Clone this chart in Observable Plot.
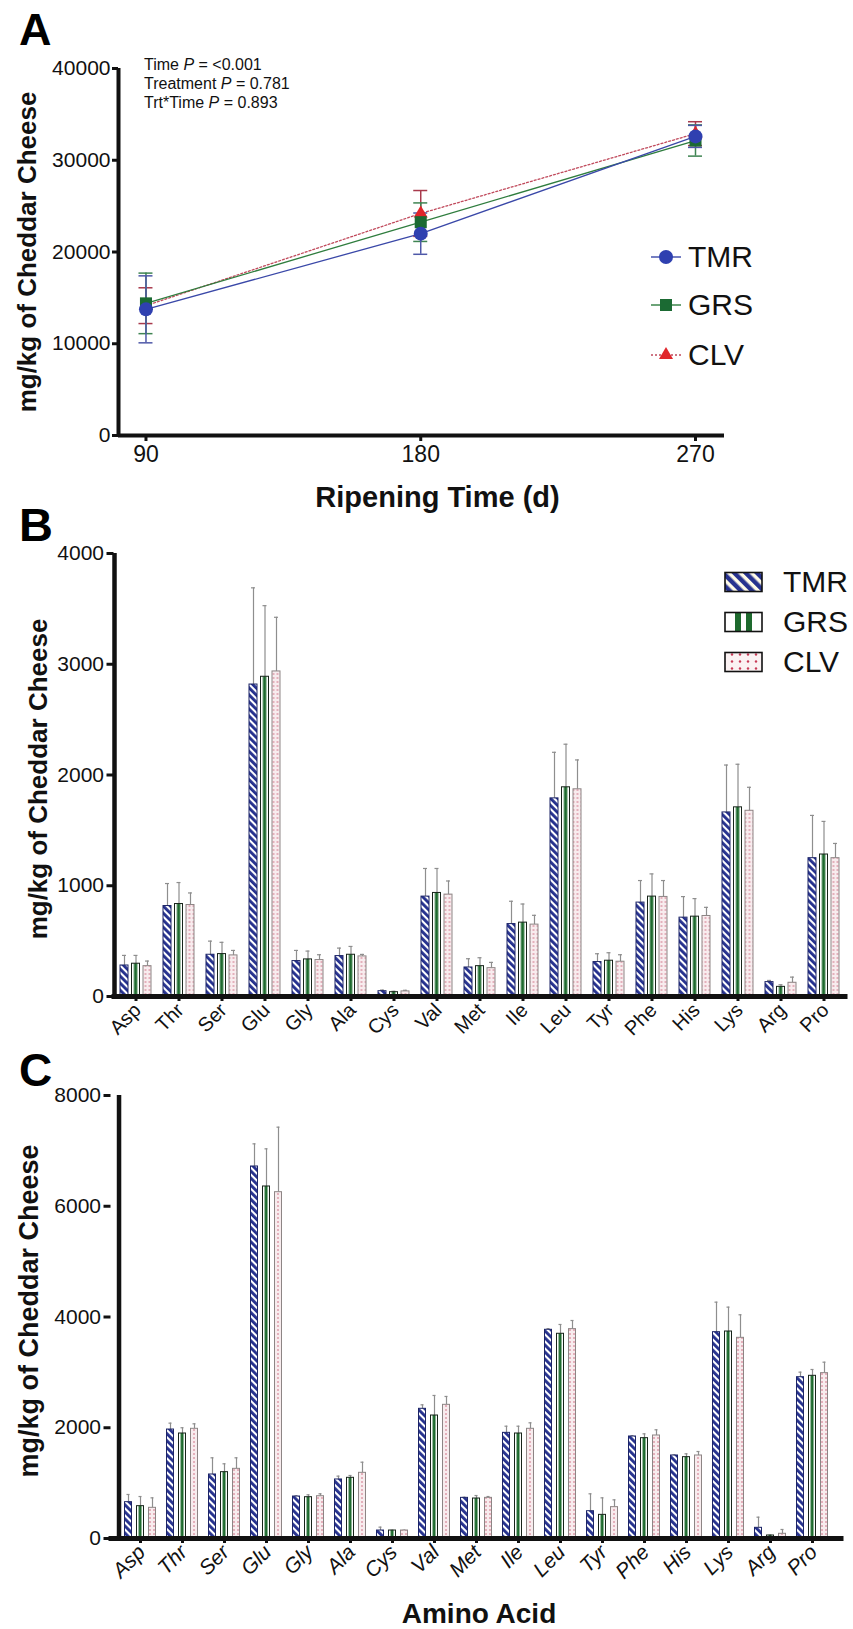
<!DOCTYPE html>
<html>
<head>
<meta charset="utf-8">
<script src="https://cdn.jsdelivr.net/npm/d3@7"></script>
<script src="https://cdn.jsdelivr.net/npm/@observablehq/plot@0.6"></script>
<style>
html,body{margin:0;padding:0;background:#fff;}
#page{position:relative;width:853px;height:1629px;overflow:hidden;font-family:"Liberation Sans",Arial,Helvetica,sans-serif;color:#111;}
.pl{position:absolute;left:0;}
.pl svg{overflow:visible;}
#overlay{position:absolute;left:0;top:0;pointer-events:none;}
</style>
</head>
<body>
<div id="page">
<svg width="0" height="0" style="position:absolute;left:0;top:0">
  <defs>
    <pattern id="pTMR" patternUnits="userSpaceOnUse" width="5" height="5" patternTransform="rotate(-45)">
      <rect width="5" height="5" fill="#ffffff"/>
      <rect width="2.9" height="5" fill="#25318e"/>
    </pattern>
    <pattern id="pGRS" patternUnits="objectBoundingBox" patternContentUnits="objectBoundingBox" width="1" height="1">
      <rect width="1" height="1" fill="#ffffff"/>
      <rect x="0.3" width="0.42" height="1" fill="#1e6a2e"/>
    </pattern>
    <pattern id="pCLV" patternUnits="userSpaceOnUse" width="4" height="4">
      <rect width="4" height="4" fill="#f8ecee"/>
      <circle cx="2" cy="2" r="0.75" fill="#c8566e"/>
    </pattern>
    <pattern id="pTMRL" patternUnits="userSpaceOnUse" width="8" height="8" patternTransform="rotate(-45)">
      <rect width="8" height="8" fill="#fffbe8"/>
      <rect width="4.5" height="8" fill="#27328f"/>
    </pattern>
    <pattern id="pCLVL" patternUnits="userSpaceOnUse" width="8" height="7">
      <rect width="8" height="7" fill="#fbf2f3"/>
      <circle cx="4" cy="3.5" r="1.2" fill="#c83a56"/>
    </pattern>
  </defs>
</svg>
<div id="plotA" class="pl" style="top:0px"></div>
<div id="plotB" class="pl" style="top:500px"></div>
<div id="plotC" class="pl" style="top:1080px"></div>
</div>
<script>
// ---------- data ----------
const seriesNames = ["TMR", "GRS", "CLV"];

// Panel A: total free amino acids over ripening
const days = [90, 180, 270];
const tmrTotal   = [13750, 22000, 32600];
const tmrTotalSD = [3650, 2250, 1200];
const grsTotal   = [14400, 23250, 32150];
const grsTotalSD = [3300, 2100, 1700];
const clvTotal   = [14150, 24200, 32900];
const clvTotalSD = [1950, 2500, 1300];
const yTicksA = [0, 10000, 20000, 30000, 40000];
const ripeningDomain = [81, 279.5];
const pValueLines = [["Time ", "P", " = <0.001"], ["Treatment ", "P", " = 0.781"], ["Trt*Time ", "P", " = 0.893"]];

// Panels B and C: individual amino acids
const aminoAcids = ["Asp","Thr","Ser","Glu","Gly","Ala","Cys","Val","Met","Ile","Leu","Tyr","Phe","His","Lys","Arg","Pro"];

const tmrB   = [280, 817, 377, 2817, 320, 365, 48, 902, 262, 654, 1789, 311, 848, 712, 1662, 130, 1249];
const tmrBSD = [91, 203, 123, 873, 96, 72, 10, 254, 79, 206, 416, 75, 199, 190, 428, 15, 386];
const grsB   = [296, 835, 383, 2887, 335, 377, 39, 935, 274, 667, 1889, 323, 902, 721, 1708, 87, 1282];
const grsBSD = [75, 194, 106, 642, 75, 75, 8, 221, 76, 168, 389, 72, 205, 163, 389, 19, 299];
const clvB   = [274, 826, 371, 2935, 329, 362, 46, 920, 256, 649, 1871, 314, 899, 727, 1677, 124, 1249];
const clvBSD = [46, 109, 45, 489, 48, 18, 10, 123, 52, 84, 265, 63, 148, 78, 212, 51, 133];
const yTicksB = [0, 1000, 2000, 3000, 4000];

const tmrC   = [656, 1968, 1156, 6718, 758, 1066, 144, 2342, 734, 1908, 3769, 493, 1842, 1499, 3726, 193, 2913];
const tmrCSD = [139, 115, 301, 409, 12, 60, 61, 72, 11, 120, 21, 314, 13, 11, 542, 192, 91];
const grsC   = [584, 1896, 1198, 6357, 746, 1096, 144, 2221, 722, 1896, 3697, 427, 1812, 1469, 3738, 54, 2938];
const grsCSD = [174, 104, 151, 680, 43, 42, 6, 362, 54, 132, 168, 307, 78, 60, 440, 8, 114];
const clvC   = [554, 1981, 1258, 6254, 764, 1186, 144, 2414, 734, 1981, 3781, 566, 1860, 1499, 3624, 85, 2986];
const clvCSD = [180, 90, 199, 1174, 43, 192, 6, 151, 24, 108, 156, 132, 103, 72, 416, 78, 198];
const yTicksC = [0, 2000, 4000, 6000, 8000];

const yTitle = "mg/kg of Cheddar Cheese";

// ---------- styles ----------
const fontFam = '"Liberation Sans", Arial, Helvetica, sans-serif';
const styleA = [
  {fill:"#2f40b0", line:"#3a48a8", err:"#4e58a8", symbol:"circle", r:7, dash:null},
  {fill:"#1b6a33", line:"#2f7d3e", err:"#3f8452", symbol:"square", r:6.8, dash:null},
  {fill:"#e0262b", line:"#c04a5c", err:"#a83a4c", symbol:"triangle", r:5.2, dash:"2,2"}
];
const barStyles = [
  {fill:"url(#pTMR)", stroke:"#1d2566"},
  {fill:"url(#pGRS)", stroke:"#17241a"},
  {fill:"url(#pCLV)", stroke:"#8d8585"}
];
const plotStyle = {fontFamily: fontFam, background: "transparent", overflow: "visible", color: "#111"};

// ---------- Panel A ----------
function panelA() {
  const totals = [tmrTotal, grsTotal, clvTotal];
  const sds = [tmrTotalSD, grsTotalSD, clvTotalSD];
  const rows = seriesNames.flatMap((s, k) => days.map((d, i) => ({series: s, day: d, v: totals[k][i], sd: sds[k][i]})));
  const by = s => rows.filter(r => r.series === s);
  const order = [2, 1, 0];
  const marks = [
    Plot.axisY({ticks: yTicksA, tickFormat: d => String(d), tickSize: 6, tickPadding: 2, fontSize: 21, strokeWidth: 3, label: null}),
    Plot.axisX({ticks: days, tickFormat: d => String(d), tickSize: 6, tickPadding: 4, fontSize: 23, strokeWidth: 3, label: null}),
    Plot.ruleX([ripeningDomain[0]], {strokeWidth: 4, insetBottom: -2}),
    Plot.ruleY([0], {strokeWidth: 4})
  ];
  order.forEach(k => marks.push(Plot.line(by(seriesNames[k]), {x: "day", y: "v", stroke: styleA[k].line, strokeWidth: 1.3, strokeDasharray: styleA[k].dash || undefined})));
  order.forEach(k => {
    const data = by(seriesNames[k]);
    const st = styleA[k].err;
    marks.push(Plot.ruleX(data, {x: "day", y1: d => d.v - d.sd, y2: d => d.v + d.sd, stroke: st, strokeWidth: 1.5}));
    marks.push(Plot.ruleY(data, {x1: "day", x2: "day", y: d => d.v + d.sd, insetLeft: -7, insetRight: -7, stroke: st, strokeWidth: 1.5}));
    marks.push(Plot.ruleY(data, {x1: "day", x2: "day", y: d => d.v - d.sd, insetLeft: -7, insetRight: -7, stroke: st, strokeWidth: 1.5}));
  });
  order.forEach(k => marks.push(Plot.dot(by(seriesNames[k]), {x: "day", y: "v", symbol: styleA[k].symbol, r: styleA[k].r, fill: styleA[k].fill, stroke: "none"})));
  marks.push(Plot.text([yTitle], {frameAnchor: "left", dx: -91, rotate: -90, fontSize: 26, fontWeight: "bold", textAnchor: "middle", lineAnchor: "middle"}));
  marks.push(Plot.text(["Ripening Time (d)"], {frameAnchor: "bottom", dx: 16, dy: 62, fontSize: 29, fontWeight: "bold", textAnchor: "middle", lineAnchor: "middle"}));
  const svg = Plot.plot({
    width: 853, height: 520,
    marginTop: 68, marginRight: 129, marginBottom: 85, marginLeft: 118,
    x: {domain: ripeningDomain},
    y: {domain: [0, 40000]},
    style: plotStyle,
    marks
  });
  document.getElementById("plotA").appendChild(svg);
}

// ---------- Panels B & C ----------
function barPanel(cfg) {
  const rows = seriesNames.flatMap((s, k) => aminoAcids.map((a, i) => ({series: s, aa: a, v: cfg.vals[k][i], sd: cfg.sds[k][i]})));
  const by = s => rows.filter(r => r.series === s);
  const marks = [];
  seriesNames.forEach((s, k) => {
    const data = by(s), dx = cfg.offsets[k];
    marks.push(Plot.ruleX(data, {x: "aa", y1: "v", y2: d => d.v + d.sd, dx, stroke: "#8e8e8e", strokeWidth: 1.2}));
    marks.push(Plot.tickY(data, {x: "aa", y: d => d.v + d.sd, dx, insetLeft: cfg.capInset, insetRight: cfg.capInset, stroke: "#8e8e8e", strokeWidth: 1.2}));
  });
  seriesNames.forEach((s, k) => {
    const data = by(s), dx = cfg.offsets[k];
    marks.push(Plot.barY(data, {x: "aa", y: "v", dx, insetLeft: cfg.barInset, insetRight: cfg.barInset, fill: barStyles[k].fill, stroke: barStyles[k].stroke, strokeWidth: 1}));
  });
  marks.push(
    Plot.axisY({ticks: cfg.yTicks, tickFormat: d => String(d), tickSize: 7, tickPadding: 3, fontSize: cfg.yFont, strokeWidth: 3, label: null}),
    Plot.axisX({tickSize: 5, strokeWidth: 3, text: null, label: null}),
    Plot.text(aminoAcids, {x: d => d, text: d => d, frameAnchor: "bottom", rotate: -45, textAnchor: "end",
      dx: cfg.xDx, dy: cfg.xDy, fontSize: cfg.xFont, fontStyle: cfg.italic ? "italic" : "normal"}),
    Plot.ruleX([aminoAcids[0]], {x: d => d, dx: -cfg.step / 2, strokeWidth: 4.5, insetBottom: -2}),
    Plot.ruleY([0], {strokeWidth: 5, insetRight: -3, insetLeft: -2}),
    Plot.text([yTitle], {frameAnchor: "left", dx: cfg.titleDx, dy: cfg.titleDy, rotate: -90, fontSize: cfg.titleFont, fontWeight: "bold", textAnchor: "middle", lineAnchor: "middle"})
  );
  if (cfg.xTitle) marks.push(Plot.text([cfg.xTitle], {frameAnchor: "bottom", dx: cfg.xTitleDx, dy: cfg.xTitleDy, fontSize: 28, fontWeight: "bold", textAnchor: "middle", lineAnchor: "middle"}));
  const svg = Plot.plot({
    width: 853, height: cfg.height,
    marginTop: cfg.mt, marginRight: cfg.mr, marginBottom: cfg.mb, marginLeft: cfg.ml,
    x: {domain: aminoAcids, padding: 0},
    y: {domain: [0, cfg.yTicks[cfg.yTicks.length - 1]]},
    style: plotStyle,
    marks
  });
  document.getElementById(cfg.id).appendChild(svg);
}

panelA();
barPanel({
  id: "plotB", height: 580, mt: 53, mr: 8.5, mb: 84, ml: 113.5, step: 43,
  vals: [tmrB, grsB, clvB], sds: [tmrBSD, grsBSD, clvBSD], yTicks: yTicksB,
  offsets: [-11.5, 0, 11.5], barInset: 17.5, capInset: 19.5,
  yFont: 21, xFont: 20, xDx: 6, xDy: 15, italic: false,
  titleDx: -75.5, titleDy: 4, titleFont: 26
});
barPanel({
  id: "plotC", height: 549, mt: 15, mr: 12.5, mb: 91, ml: 110.5, step: (853 - 12.5 - 110.5) / 17,
  vals: [tmrC, grsC, clvC], sds: [tmrCSD, grsCSD, clvCSD], yTicks: yTicksC,
  offsets: [-12, 0, 12], barInset: 17.5, capInset: 19.5,
  yFont: 21, xFont: 21, xDx: 6, xDy: 15, italic: true,
  titleDx: -81.5, titleDy: -6, titleFont: 27,
  xTitle: "Amino Acid", xTitleDx: 3, xTitleDy: 76
});

// ---------- overlay: panel letters, statistics and legends ----------
const ov = d3.select("#page").append("svg").attr("id", "overlay").attr("width", 853).attr("height", 1629)
  .style("font-family", fontFam);
[["A", 45, 45], ["B", 541, 47], ["C", 1086, 46]].forEach(([t, y, fs]) =>
  ov.append("text").attr("x", 19).attr("y", y).attr("font-size", fs).attr("font-weight", "bold").attr("fill", "#000").text(t));
pValueLines.forEach((parts, i) => {
  const t = ov.append("text").attr("x", 144).attr("y", 70 + i * 19).attr("font-size", 16).attr("fill", "#111");
  t.append("tspan").text(parts[0]);
  t.append("tspan").attr("font-style", "italic").text(parts[1]);
  t.append("tspan").text(parts[2]);
});
// legend A
const legAy = [257, 305, 355];
seriesNames.forEach((s, k) => {
  const y = legAy[k];
  ov.append("line").attr("x1", 651).attr("x2", 681).attr("y1", y).attr("y2", y)
    .attr("stroke", styleA[k].line).attr("stroke-width", 1.4).attr("stroke-dasharray", styleA[k].dash);
  const sym = {circle: d3.symbolCircle, square: d3.symbolSquare, triangle: d3.symbolTriangle}[styleA[k].symbol];
  ov.append("path").attr("transform", `translate(666,${y})`)
    .attr("d", d3.symbol(sym, Math.PI * styleA[k].r * styleA[k].r)()).attr("fill", styleA[k].fill);
  ov.append("text").attr("x", 688).attr("y", y + 10).attr("font-size", 30).attr("fill", "#111").text(s);
});
// legend B
const legBy = [582, 622, 662];
seriesNames.forEach((s, k) => {
  const y = legBy[k];
  const g = ov.append("g");
  const fills = ["url(#pTMRL)", "#ffffff", "url(#pCLVL)"];
  g.append("rect").attr("x", 725).attr("y", y - 9.5).attr("width", 37).attr("height", 19).attr("fill", fills[k]);
  if (k === 1) {
    g.append("rect").attr("x", 735).attr("y", y - 9.5).attr("width", 6).attr("height", 19).attr("fill", "#1e6a2e");
    g.append("rect").attr("x", 746).attr("y", y - 9.5).attr("width", 6).attr("height", 19).attr("fill", "#1e6a2e");
  }
  g.append("rect").attr("x", 725).attr("y", y - 9.5).attr("width", 37).attr("height", 19).attr("fill", "none").attr("stroke", "#111").attr("stroke-width", 1.6);
  ov.append("text").attr("x", 783).attr("y", y + 10).attr("font-size", 30).attr("fill", "#111").text(s);
});
</script>
</body>
</html>
